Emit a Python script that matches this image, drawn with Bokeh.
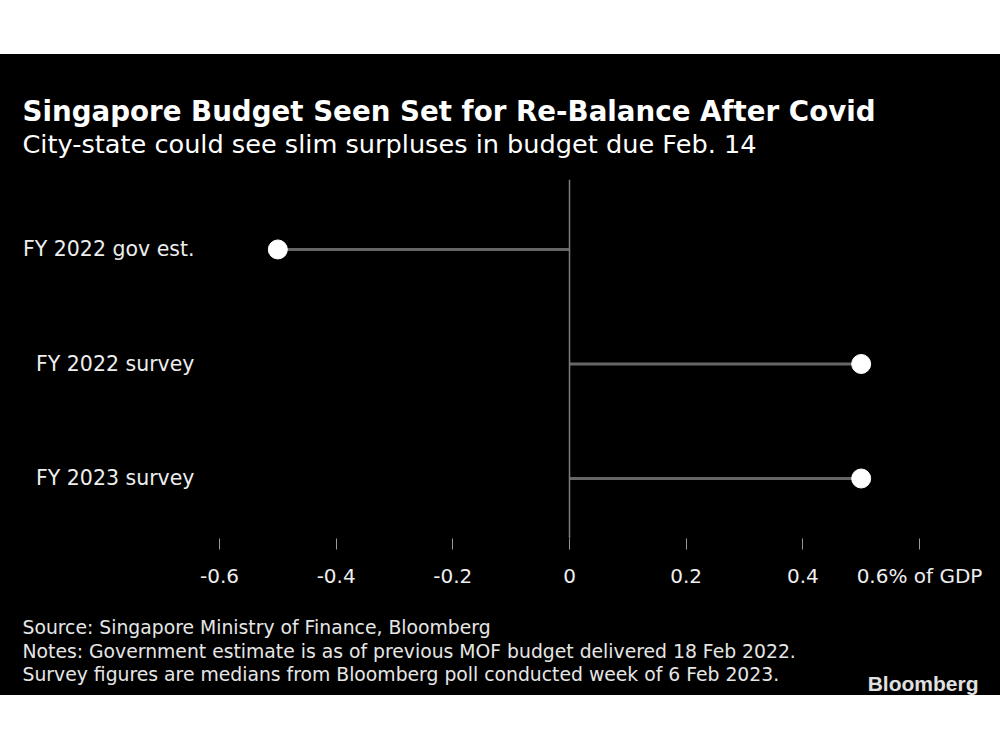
from bokeh.plotting import figure
from bokeh.models import Range1d, Span, Label, FixedTicker, Spacer
from bokeh.layouts import column
from bokeh.embed import file_html
from bokeh.resources import INLINE

# ---- data ----
categories = ["FY 2022 gov est.", "FY 2022 survey", "FY 2023 survey"]
values = [-0.5, 0.5, 0.5]
x_ticks = [-0.6, -0.4, -0.2, 0, 0.2, 0.4, 0.6]
x_tick_labels = ["-0.6", "-0.4", "-0.2", "0", "0.2", "0.4", "0.6% of GDP"]

title = "Singapore Budget Seen Set for Re-Balance After Covid"
subtitle = "City-state could see slim surpluses in budget due Feb. 14"
footer = [
    "Source: Singapore Ministry of Finance, Bloomberg",
    "Notes: Government estimate is as of previous MOF budget delivered 18 Feb 2022.",
    "Survey figures are medians from Bloomberg poll conducted week of 6 Feb 2023.",
]
brand = "Bloomberg"

ys = list(range(len(categories)))
W = 1000
BG = "black"


def blank_fig(h):
    f = figure(width=W, height=h, output_backend="svg", toolbar_location=None,
               x_range=Range1d(0, 1), y_range=Range1d(0, 1),
               x_axis_type=None, y_axis_type=None,
               min_border=0, min_border_left=0, min_border_right=0,
               min_border_top=0, min_border_bottom=0,
               outline_line_color=None, frame_align=False)
    f.background_fill_color = BG
    f.border_fill_color = BG
    f.outline_line_alpha = 0
    f.styles = {"background-color": BG}
    return f


# ---- header ----
head = blank_fig(125)
head.add_layout(Label(x=22, y=68, x_units="screen", y_units="screen", text=title,
                      text_font="DejaVu Sans", text_font_style="bold", text_font_size="27.7px",
                      text_color="white", text_baseline="alphabetic"))
head.add_layout(Label(x=22, y=36, x_units="screen", y_units="screen", text=subtitle,
                      text_font="DejaVu Sans", text_font_size="25.6px",
                      text_color="white", text_baseline="alphabetic"))

# ---- main chart ----
p = figure(width=W, height=421, output_backend="svg", toolbar_location=None,
           x_range=Range1d(-0.624, 0.6274), y_range=Range1d(2.524, -0.611),
           min_border_left=205, min_border_right=65, min_border_top=0,
           min_border_bottom=62, outline_line_color=None, frame_align=False)
p.background_fill_color = BG
p.border_fill_color = BG
p.outline_line_alpha = 0
p.styles = {"background-color": BG}
p.xgrid.visible = False
p.ygrid.visible = False

p.add_layout(Span(location=0, dimension="height", line_color="#7c7c7c", line_width=1.5))
p.segment(x0=[0] * len(values), y0=ys, x1=values, y1=ys, line_color="#666666", line_width=3)
p.scatter(x=values, y=ys, size=19, fill_color="white", line_color="white")

xa = p.xaxis[0]
xa.ticker = FixedTicker(ticks=x_ticks)
xa.major_label_overrides = {t: l for t, l in zip(x_ticks, x_tick_labels)}
xa.axis_line_color = None
xa.major_tick_in = 0
xa.major_tick_out = 11
xa.major_tick_line_color = "#9a9a9a"
xa.major_tick_line_width = 1
xa.minor_tick_line_color = None
xa.major_label_standoff = 14
xa.major_label_text_font = "DejaVu Sans"
xa.major_label_text_font_size = "20px"
xa.major_label_text_color = "#eeeeee"

ya = p.yaxis[0]
ya.ticker = FixedTicker(ticks=ys)
ya.major_label_overrides = {y: c for y, c in zip(ys, categories)}
ya.axis_line_color = None
ya.major_tick_line_color = None
ya.minor_tick_line_color = None
ya.major_label_standoff = 5
ya.major_label_text_font = "DejaVu Sans"
ya.major_label_text_font_size = "20.5px"
ya.major_label_text_color = "#eeeeee"

# ---- footer ----
foot = blank_fig(95)
for i, line in enumerate(footer):
    foot.add_layout(Label(x=22, y=68 - 23.5 * i, x_units="screen", y_units="screen", text=line,
                          text_font="DejaVu Sans", text_font_size="18.8px",
                          text_color="#e6e6e6", text_baseline="alphabetic"))
foot.add_layout(Label(x=978, y=12, x_units="screen", y_units="screen", text=brand,
                      text_font="Liberation Sans", text_font_style="bold", text_font_size="21px",
                      text_color="#e0e0e0", text_baseline="alphabetic", text_align="right"))

layout = column(Spacer(width=W, height=54), head, p, foot, spacing=0)
open("out.html", "w").write(file_html(layout, INLINE))
